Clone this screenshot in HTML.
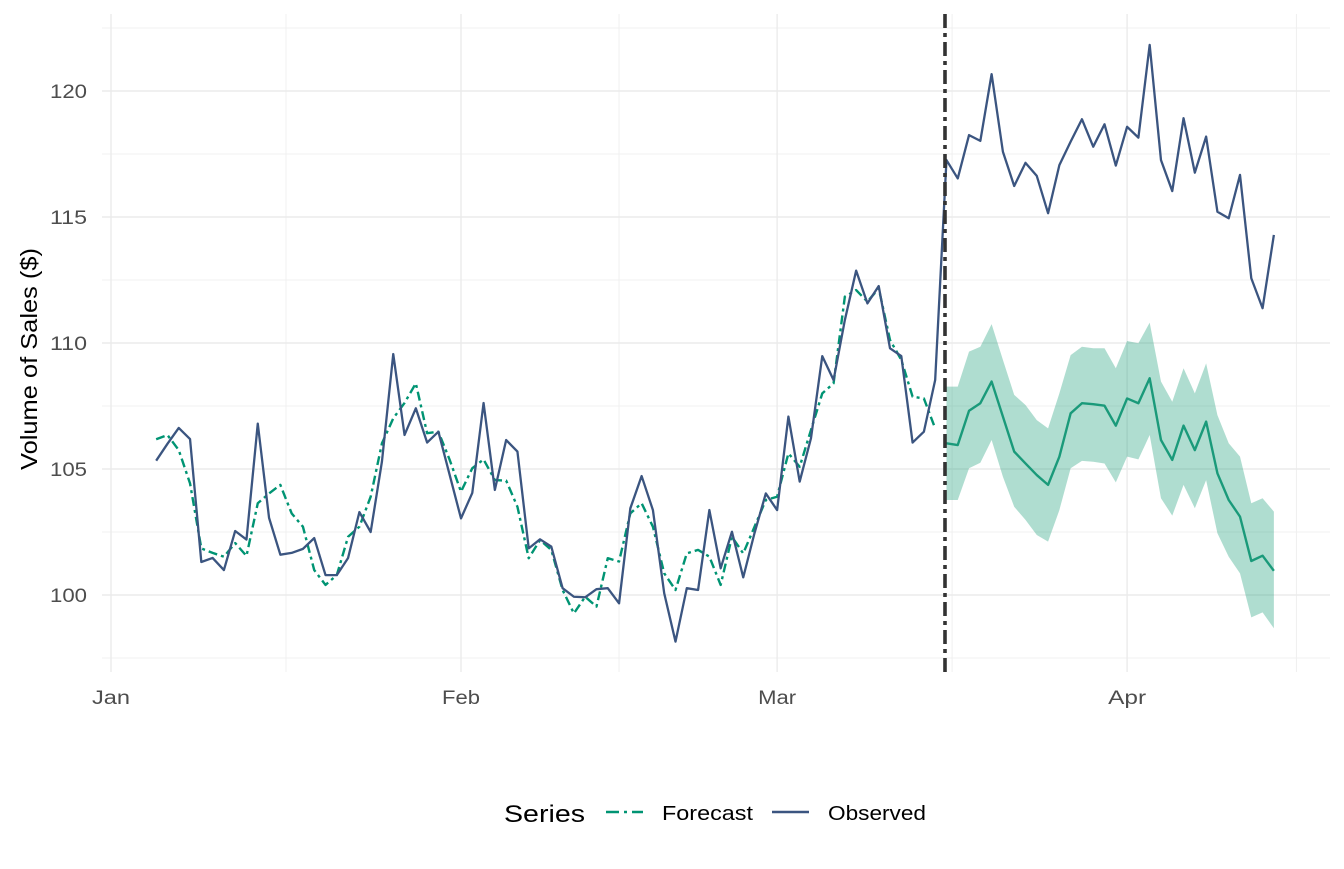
<!DOCTYPE html>
<html><head><meta charset="utf-8"><style>
body{margin:0;background:#fff;}
svg text{font-family:"Liberation Sans",Arial,sans-serif;}
</style></head><body>
<svg id="chart" width="1344" height="864" viewBox="0 0 1344 864" xmlns="http://www.w3.org/2000/svg">
<rect width="1344" height="864" fill="#fff"/>
<g id="grid"></g>
<g id="marks"></g>
<g id="axes"></g>
<text transform="translate(37,359) rotate(-90)" text-anchor="middle" font-size="23" fill="#000" textLength="222" lengthAdjust="spacingAndGlyphs">Volume of Sales ($)</text>
<g>
<text x="504" y="822" font-size="24" fill="#000" textLength="81" lengthAdjust="spacingAndGlyphs">Series</text>
<line x1="606" y1="812" x2="643" y2="812" stroke="#009473" stroke-width="2.4" stroke-dasharray="13,5,3,5"/>
<text x="662" y="820" font-size="20" fill="#000" textLength="91" lengthAdjust="spacingAndGlyphs">Forecast</text>
<line x1="772" y1="812" x2="809" y2="812" stroke="#3b5580" stroke-width="2.4"/>
<text x="828" y="820" font-size="20" fill="#000" textLength="98" lengthAdjust="spacingAndGlyphs">Observed</text>
</g>
</svg>
<script>
const obsStartDay = 4;
const observed = [105.33,106.0,106.63,106.19,101.31,101.47,100.99,102.54,102.2,106.8,103.06,101.6,101.67,101.83,102.26,100.79,100.79,101.47,103.29,102.5,105.3,109.56,106.35,107.41,106.05,106.48,104.76,103.04,104.05,107.62,104.17,106.15,105.69,101.85,102.21,101.92,100.27,99.93,99.91,100.23,100.27,99.67,103.44,104.72,103.37,100.07,98.15,100.27,100.2,103.37,101.06,102.51,100.7,102.46,104.03,103.37,107.08,104.5,106.22,109.48,108.53,110.91,112.87,111.57,112.26,109.79,109.48,106.05,106.48,108.53,117.26,116.53,118.25,118.02,120.67,117.59,116.23,117.15,116.63,115.15,117.06,117.99,118.88,117.79,118.68,117.04,118.58,118.15,121.83,117.26,116.03,118.92,116.76,118.19,115.21,114.95,116.67,112.57,111.38,114.29];
const fittedStartDay = 4;
const fitted = [106.18,106.35,105.75,104.43,101.85,101.67,101.52,102.06,101.55,103.64,104.03,104.37,103.24,102.71,100.99,100.4,100.79,102.31,102.71,103.9,106.02,107.01,107.62,108.4,106.42,106.48,105.36,104.1,105.03,105.38,104.56,104.54,103.5,101.46,102.18,101.79,100.2,99.27,99.93,99.54,101.46,101.33,103.24,103.64,102.71,100.86,100.2,101.65,101.79,101.52,100.4,102.31,101.65,102.71,103.77,103.9,105.62,105.09,106.55,108.0,108.4,111.84,112.1,111.64,112.17,110.12,109.33,107.87,107.8,106.61];
const fcStartDay = 74;
const fcMean = [106.02,105.95,107.31,107.61,108.47,107.08,105.69,105.22,104.76,104.37,105.49,107.21,107.61,107.57,107.51,106.72,107.8,107.61,108.6,106.15,105.36,106.72,105.75,106.88,104.83,103.77,103.11,101.35,101.56,100.96];
const fcUpper = [108.27,108.27,109.66,109.85,110.75,109.33,107.94,107.54,106.94,106.61,108.0,109.52,109.85,109.79,109.79,109.0,110.08,109.99,110.81,108.47,107.67,109.0,108.0,109.19,107.14,106.02,105.49,103.64,103.84,103.31];
const fcLower = [103.77,103.77,105.03,105.25,106.15,104.69,103.5,102.98,102.38,102.12,103.37,105.03,105.32,105.29,105.22,104.47,105.49,105.38,106.35,103.84,103.15,104.37,103.44,104.56,102.45,101.52,100.86,99.11,99.31,98.68];
const cutoffDay = 73.87;
const yTicks = [100,105,110,115,120];
const yMinor = [97.5,102.5,107.5,112.5,117.5,122.5];
const xTickDays = [0,31,59,90];
const xTickLabels = ["Jan","Feb","Mar","Apr"];
const xMinorDays = [15.5,45,74.5,105];

const NS="http://www.w3.org/2000/svg";
const PX0=102, PX1=1330, PY0=14, PY1=672;
function xs(d){return 111 + d*11.29;}
function ys(v){return 595 - (v-100)*25.2;}
function mk(tag,attrs,parent){const e=document.createElementNS(NS,tag);for(const k in attrs)e.setAttribute(k,attrs[k]);parent.appendChild(e);return e;}
const grid=document.getElementById('grid'), marks=document.getElementById('marks'), axes=document.getElementById('axes');

yMinor.forEach(v=>{const l=mk('line',{x1:PX0,x2:PX1,y1:ys(v),y2:ys(v),stroke:'#f0f0f0','stroke-width':1},grid);

});
xMinorDays.forEach(d=>{const l=mk('line',{x1:xs(d),x2:xs(d),y1:PY0,y2:PY1,stroke:'#f0f0f0','stroke-width':1},grid);

});
yTicks.forEach(v=>{const l=mk('line',{x1:PX0,x2:PX1,y1:ys(v),y2:ys(v),stroke:'#ebebeb','stroke-width':1.4},grid);


const t=mk('text',{x:87,y:ys(v)+7,'text-anchor':'end','font-size':19,fill:'#4d4d4d',textLength:37,lengthAdjust:'spacingAndGlyphs'},axes);t.textContent=v;

});
xTickDays.forEach((d,i)=>{const l=mk('line',{x1:xs(d),x2:xs(d),y1:PY0,y2:PY1,stroke:'#ebebeb','stroke-width':1.4},grid);


const t=mk('text',{x:xs(d),y:704,'text-anchor':'middle','font-size':19,fill:'#4d4d4d',textLength:38,lengthAdjust:'spacingAndGlyphs'},axes);t.textContent=xTickLabels[i];

});

let up=fcUpper.map((v,i)=>xs(fcStartDay+i)+','+ys(v));
let lo=fcLower.map((v,i)=>xs(fcStartDay+i)+','+ys(v)).reverse();
const rib=mk('polygon',{points:up.concat(lo).join(' '),fill:'#1b9e77','fill-opacity':0.35,stroke:'none'},marks);



function line(arr,start,attrs,name){
  const p=mk('polyline',Object.assign({points:arr.map((v,i)=>xs(start+i)+','+ys(v)).join(' '),fill:'none','stroke-linejoin':'round'},attrs),marks);
  
  
}
line(fitted,fittedStartDay,{stroke:'#009473','stroke-width':2.4,'stroke-dasharray':'9,4,3,4'},'fitted-forecast-line');
line(fcMean,fcStartDay,{stroke:'#1a9a7a','stroke-width':2.4},'forecast-mean-line');
line(observed,obsStartDay,{stroke:'#3b5580','stroke-width':2.3},'observed-line');

const cl=mk('line',{x1:xs(cutoffDay),x2:xs(cutoffDay),y1:PY0,y2:PY1,stroke:'#333','stroke-width':3.6,'stroke-dasharray':'14,5,4,5'},marks);


</script>
</body></html>
